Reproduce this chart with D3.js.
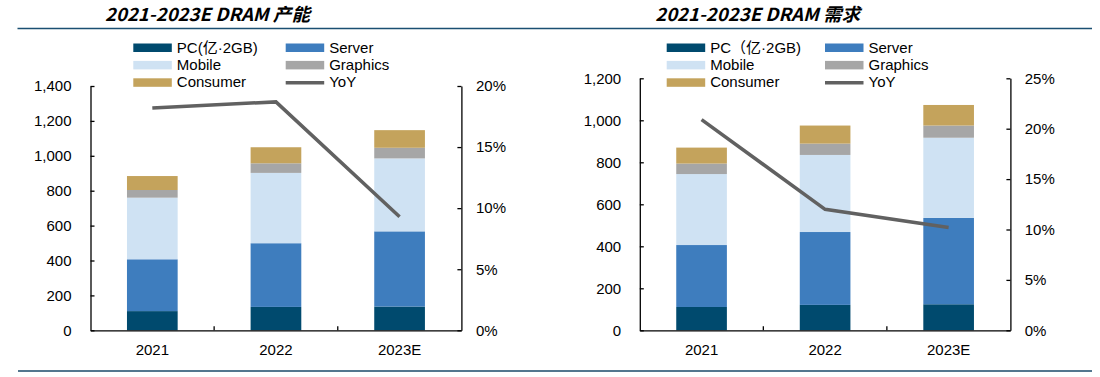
<!DOCTYPE html>
<html>
<head>
<meta charset="utf-8">
<script src="https://cdnjs.cloudflare.com/ajax/libs/d3/7.8.5/d3.min.js"></script>
<style>
  body { margin: 0; background: #fff; }
  svg text { font-family: "Liberation Sans", Arial, "Noto Sans CJK SC", sans-serif; }
</style>
</head>
<body>
<script>
var categories = ["2021", "2022", "2023E"];
var seriesNames = ["PC", "Server", "Mobile", "Graphics", "Consumer"];
var colors = ["#004a6e", "#3e7dbe", "#cfe2f3", "#a6a6a6", "#c4a35c"];
var lineColor = "#616161";

// 产能
var capPC = [110, 134, 136];
var capServer = [297, 365, 431];
var capMobile = [353, 403, 418];
var capGraphics = [44, 55, 61];
var capConsumer = [80, 92, 101];
var capYoY = [0.182, 0.187, 0.093];
var capLeftTicks = [0, 200, 400, 600, 800, 1000, 1200, 1400];
var capRightTicks = [0, 0.05, 0.10, 0.15, 0.20];

// 需求
var demPC = [111, 121, 124];
var demServer = [295, 347, 411];
var demMobile = [338, 367, 382];
var demGraphics = [50, 54, 58];
var demConsumer = [76, 86, 98];
var demYoY = [0.209, 0.120, 0.102];
var demLeftTicks = [0, 200, 400, 600, 800, 1000, 1200];
var demRightTicks = [0, 0.05, 0.10, 0.15, 0.20, 0.25];

var width = 1100, height = 377;

var svg = d3.select("body")
  .append("svg")
  .attr("width", width)
  .attr("height", height);

// header / footer rules
svg.append("line")
  .attr("x1", 17.5).attr("x2", 1092)
  .attr("y1", 28.5).attr("y2", 28.5)
  .attr("stroke", "#1b4f72").attr("stroke-width", 1.3);
svg.append("line")
  .attr("x1", 18).attr("x2", 1092)
  .attr("y1", 371).attr("y2", 371)
  .attr("stroke", "#1b4a6a").attr("stroke-width", 1.3);

function drawChart(opt) {
  var rows = categories.map(function(c, i) {
    return { cat: c, PC: opt.pc[i], Server: opt.server[i], Mobile: opt.mobile[i],
             Graphics: opt.graphics[i], Consumer: opt.consumer[i], yoy: opt.yoy[i] };
  });

  var x = d3.scaleBand()
    .domain(categories)
    .range([opt.x0, opt.x1])
    .paddingInner(0.59)
    .paddingOuter(0.295);

  var y = d3.scaleLinear()
    .domain([0, opt.leftMax])
    .range([330.3, opt.top]);

  var yR = d3.scaleLinear()
    .domain([0, opt.rightMax])
    .range([330.3, opt.top]);

  var g = svg.append("g");

  // title
  g.append("text")
    .attr("x", opt.titleX)
    .attr("y", 21)
    .attr("text-anchor", "middle")
    .attr("font-size", "18px")
    .attr("font-weight", "bold")
    .attr("font-style", "italic")
    .style("font-family", "'Noto Sans CJK SC', 'DejaVu Sans', sans-serif")
    .attr("textLength", 205)
    .attr("lengthAdjust", "spacingAndGlyphs")
    .text(opt.title);

  // stacked bars
  var stack = d3.stack().keys(seriesNames);
  var layers = stack(rows);

  g.selectAll("g.layer")
    .data(layers)
    .enter()
    .append("g")
    .attr("class", "layer")
    .attr("fill", function(d, i) { return colors[i]; })
    .selectAll("rect")
    .data(function(d) { return d; })
    .enter()
    .append("rect")
    .attr("x", function(d) { return x(d.data.cat); })
    .attr("width", x.bandwidth())
    .attr("y", function(d) { return y(d[1]); })
    .attr("height", function(d) { return y(d[0]) - y(d[1]); });

  // YoY line
  var line = d3.line()
    .x(function(d) { return x(d.cat) + x.bandwidth() / 2; })
    .y(function(d) { return yR(d.yoy); });

  g.append("path")
    .datum(rows)
    .attr("fill", "none")
    .attr("stroke", lineColor)
    .attr("stroke-width", 3.5)
    .attr("stroke-linejoin", "miter")
    .attr("d", line);

  // axes
  var leftAxis = g.append("g")
    .attr("transform", "translate(" + opt.x0 + ",0)")
    .call(d3.axisLeft(y)
      .tickValues(opt.leftTicks)
      .tickSize(-4)
      .tickSizeOuter(0)
      .tickPadding(opt.leftPad)
      .tickFormat(d3.format(",")));

  var rightAxis = g.append("g")
    .attr("transform", "translate(" + opt.x1 + ",0)")
    .call(d3.axisRight(yR)
      .tickValues(opt.rightTicks)
      .tickSize(-4)
      .tickSizeOuter(0)
      .tickPadding(opt.rightPad)
      .tickFormat(d3.format(".0%")));

  var bottomAxis = g.append("g")
    .attr("transform", "translate(0,330.3)")
    .call(d3.axisBottom(x)
      .tickSize(0)
      .tickSizeOuter(0)
      .tickPadding(14));

  // category boundary ticks pointing up
  var bounds = d3.range(1, categories.length).map(function(i) {
    return opt.x0 + i * x.step();
  });
  bottomAxis.selectAll("line.bound")
    .data(bounds)
    .enter()
    .append("line")
    .attr("class", "bound")
    .attr("x1", function(d) { return d; })
    .attr("x2", function(d) { return d; })
    .attr("y1", 0)
    .attr("y2", -4)
    .attr("stroke", "#000")
    .attr("stroke-width", 1.3);

  [leftAxis, rightAxis, bottomAxis].forEach(function(a) {
    a.selectAll(".domain").attr("stroke", "#000").attr("stroke-width", 1.3);
    a.selectAll(".tick line").attr("stroke", "#000").attr("stroke-width", 1.3);
    a.selectAll("text")
      .attr("font-size", "15px")
      .attr("fill", "#000")
      .style("font-family", "'Liberation Sans', Arial, sans-serif");
  });

  // legend
  var legendItems = [
    { name: opt.pcLabel, col: 0, row: 0, color: colors[0], type: "rect" },
    { name: "Server", col: 1, row: 0, color: colors[1], type: "rect" },
    { name: "Mobile", col: 0, row: 1, color: colors[2], type: "rect" },
    { name: "Graphics", col: 1, row: 1, color: colors[3], type: "rect" },
    { name: "Consumer", col: 0, row: 2, color: colors[4], type: "rect" },
    { name: "YoY", col: 1, row: 2, color: lineColor, type: "line" }
  ];

  var leg = g.selectAll("g.leg")
    .data(legendItems)
    .enter()
    .append("g")
    .attr("class", "leg")
    .attr("transform", function(d) {
      return "translate(" + opt.legendX[d.col] + "," + (52.5 + d.row * 17.4) + ")";
    });

  leg.filter(function(d) { return d.type === "rect"; })
    .append("rect")
    .attr("x", 0)
    .attr("y", -9)
    .attr("width", 38.5)
    .attr("height", 8.5)
    .attr("fill", function(d) { return d.color; });

  leg.filter(function(d) { return d.type === "line"; })
    .append("line")
    .attr("x1", 0)
    .attr("x2", 38.5)
    .attr("y1", -4.5)
    .attr("y2", -4.5)
    .attr("stroke", function(d) { return d.color; })
    .attr("stroke-width", 3.5);

  leg.append("text")
    .attr("x", 43.5)
    .attr("y", 0)
    .attr("font-size", "15px")
    .attr("fill", "#000")
    .text(function(d) { return d.name; });
}

drawChart({
  title: "2021-2023E DRAM 产能",
  titleX: 207.5,
  x0: 90.5, x1: 461.4, top: 86,
  leftMax: 1400, rightMax: 0.20,
  leftTicks: capLeftTicks, rightTicks: capRightTicks,
  leftPad: 19, rightPad: 14.6,
  pc: capPC, server: capServer, mobile: capMobile,
  graphics: capGraphics, consumer: capConsumer, yoy: capYoY,
  pcLabel: "PC(亿·2GB)",
  legendX: [133.3, 285.7]
});

drawChart({
  title: "2021-2023E DRAM 需求",
  titleX: 757.7,
  x0: 639.8, x1: 1010.4, top: 78.3,
  leftMax: 1200, rightMax: 0.25,
  leftTicks: demLeftTicks, rightTicks: demRightTicks,
  leftPad: 18.6, rightPad: 14.3,
  pc: demPC, server: demServer, mobile: demMobile,
  graphics: demGraphics, consumer: demConsumer, yoy: demYoY,
  pcLabel: "PC（亿·2GB)",
  legendX: [666.7, 825]
});
</script>
</body>
</html>
